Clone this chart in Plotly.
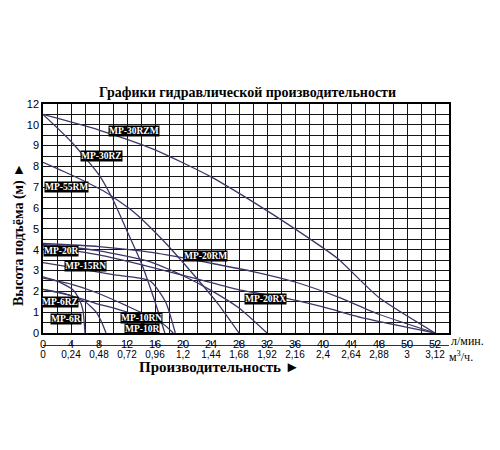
import numpy as np
import plotly.graph_objects as go

# ---- axis tick data ----
flow_ticks = [0, 4, 8, 12, 16, 20, 24, 28, 32, 36, 40, 44, 48, 50, 52]          # л/мин
m3h_ticks = ["0", "0,24", "0,48", "0,72", "0,96", "1,2", "1,44", "1,68", "1,92",
             "2,16", "2,4", "2,64", "2,88", "3", "3,12"]                          # м3/ч
head_tickvals = [0, 1, 2, 3, 4, 5, 6, 7, 8, 9, 10, 11]
head_ticktext = ["0", "1", "2", "3", "4", "5", "6", "7", "8", "9", "10", "12"]

# ---- pump curves (flow л/мин, head м) ----
mp30rzm_q = [0, 8, 16, 24, 30, 36, 42, 48, 52]
mp30rzm_h = [10.5, 9.75, 8.8, 7.5, 6.3, 5.0, 3.6, 1.7, 0]

mp30rz_q = [0, 4, 8, 10, 12, 14, 16, 17.4]
mp30rz_h = [10.5, 9.2, 7.6, 6.4, 4.9, 3.4, 1.5, 0]

mp55rm_q = [0, 4, 9, 13, 17, 21, 25, 28]
mp55rm_h = [8.2, 7.6, 6.75, 5.8, 4.5, 3.0, 1.4, 0]

mp20rm_q = [0, 8, 16, 24, 30, 36, 42, 48, 52]
mp20rm_h = [4.3, 4.15, 3.85, 3.35, 2.95, 2.45, 1.75, 0.9, 0]

mp20r_q = [0, 8, 15, 20, 24, 28, 32]
mp20r_h = [4.25, 3.95, 3.45, 2.75, 2.05, 1.2, 0]

mp20rx_q = [0, 8, 15, 22, 28, 34, 40, 46, 52]
mp20rx_h = [4.2, 3.75, 3.2, 2.6, 2.07, 1.72, 1.25, 0.7, 0]

mp15rn_q = [0, 5, 10, 15.3, 17.5, 18.9]
mp15rn_h = [3.38, 3.1, 2.8, 2.5, 1.5, 0]

mp10rn_q = [0, 4, 7.4, 12, 17, 18.6]
mp10rn_h = [2.64, 2.35, 1.97, 1.3, 0.48, 0]

mp10r_q = [0, 4, 7.4, 13, 15.5]
mp10r_h = [2.1, 1.8, 1.44, 0.87, 0]

mp6rz_q = [0, 3, 6, 7.6, 8.4, 9]
mp6rz_h = [2.1, 1.9, 1.5, 1.0, 0.5, 0]

mp6r_q = [0, 2, 4.3, 5.2, 5.7, 6]
mp6r_h = [2.7, 2.5, 2.07, 1.6, 1.1, 0]

curve_names = ["MP-30RZM", "MP-30RZ", "MP-55RM", "MP-20RM", "MP-20R", "MP-20RX",
               "MP-15RN", "MP-10RN", "MP-10R", "MP-6RZ", "MP-6R"]
curve_q = [mp30rzm_q, mp30rz_q, mp55rm_q, mp20rm_q, mp20r_q, mp20rx_q,
           mp15rn_q, mp10rn_q, mp10r_q, mp6rz_q, mp6r_q]
curve_h = [mp30rzm_h, mp30rz_h, mp55rm_h, mp20rm_h, mp20r_h, mp20rx_h,
           mp15rn_h, mp10rn_h, mp10r_h, mp6rz_h, mp6r_h]

# label anchor points (flow, head)
label_names = ["MP-30RZM", "MP-30RZ", "MP-55RM", "MP-20R", "MP-15RN", "MP-20RM",
               "MP-20RX", "MP-6RZ", "MP-6R", "MP-10RN", "MP-10R"]
label_q = [13.0, 8.4, 3.3, 2.6, 6.0, 23.2, 31.8, 2.4, 3.3, 14.0, 14.2]
label_h = [9.7, 8.5, 7.0, 3.95, 3.2, 3.7, 1.63, 1.5, 0.67, 0.74, 0.2]

tick_index = np.arange(len(flow_ticks))


def to_pos(q):
    """Map flow (л/мин) onto the chart's evenly spaced tick scale."""
    return np.interp(np.asarray(q, dtype=float), flow_ticks, tick_index)


line_color = "#3d3568"
fig = go.Figure()
for name, q, h in zip(curve_names, curve_q, curve_h):
    fig.add_trace(go.Scatter(x=to_pos(q), y=h, mode="lines", name=name,
                             line=dict(color=line_color, width=1.3, shape="spline", smoothing=0.6),
                             showlegend=False, hoverinfo="skip"))

# invisible trace to activate the second x axis
fig.add_trace(go.Scatter(x=[0, 14.5], y=[0, 0], xaxis="x2", mode="lines",
                         line=dict(width=0), showlegend=False, hoverinfo="skip"))

for name, q, h in zip(label_names, label_q, label_h):
    fig.add_annotation(x=float(to_pos(q)), y=h, xref="x", yref="y", text="<b>%s</b>" % name,
                       showarrow=False, bgcolor="black", borderpad=0,
                       font=dict(family="Liberation Serif", size=9.5, color="white"))

OFF = 8  # page body margin
L, R, T, B = 43, 449, 104, 345   # reference pixel frame (B = second axis line)
W, H = 500 - OFF, 450 - OFF
pw = R - L
ph = B - T


def px(xp):
    return (xp - L) / pw


def py(yp):
    return (B - yp) / ph


serif = "Liberation Serif"
sans = "Liberation Sans"


def paper_text(x, y, text, size, xanchor="center", angle=0):
    fig.add_annotation(x=px(x), y=py(y), xref="paper", yref="paper", showarrow=False,
                       xanchor=xanchor, yanchor="middle", text=text, textangle=angle,
                       font=dict(family=serif, size=size, color="black"))


paper_text(247, 93, "<b>Графики гидравлической производительности</b>", 14)
paper_text(219, 367, "<b>Производительность ►</b>", 15)
paper_text(19, 235, "<b>Высота подъёма (м) ►</b>", 14, angle=-90)
paper_text(449, 341, "л/мин.", 12, xanchor="left")
paper_text(447, 356, "м<sup>3</sup>/ч.", 12, xanchor="left")

grid_col = "#151515"
fig.update_layout(
    width=W, height=H,
    margin=dict(l=L - OFF, r=W - (R - OFF), t=T - OFF, b=H - (B - OFF), autoexpand=False),
    paper_bgcolor="white", plot_bgcolor="white",
    xaxis=dict(range=[0, 14.5], tickmode="array", tickvals=list(tick_index),
               ticktext=[str(v) for v in flow_ticks], showgrid=True, gridcolor=grid_col,
               gridwidth=1.2, zeroline=False, showline=True, linecolor="black", linewidth=1.5,
               mirror=True, ticks="", anchor="y",
               tickfont=dict(family=sans, size=11, color="black"),
               minor=dict(tickmode="linear", tick0=0, dtick=0.5, showgrid=True,
                          gridcolor=grid_col, gridwidth=1.2, ticks="")),
    xaxis2=dict(range=[0, 14.5], overlaying="x", anchor="free", position=0, side="bottom",
                tickmode="array", tickvals=list(tick_index), ticktext=m3h_ticks,
                showgrid=False, zeroline=False, showline=True, linecolor="#333333", linewidth=1,
                ticks="inside", ticklen=4, tickcolor="#333333",
                tickfont=dict(family=sans, size=10, color="black")),
    yaxis=dict(range=[0, 11], domain=[py(333), 1], tickmode="array", tickvals=head_tickvals,
               ticktext=head_ticktext, showgrid=True, gridcolor=grid_col, gridwidth=1.2,
               zeroline=False, showline=True, linecolor="black", linewidth=1.5, mirror=True,
               ticks="", tickfont=dict(family=sans, size=11, color="black"),
               minor=dict(tickmode="linear", tick0=0, dtick=0.5, showgrid=True,
                          gridcolor=grid_col, gridwidth=1.2, ticks="")),
)

fig.write_html("out.html")
